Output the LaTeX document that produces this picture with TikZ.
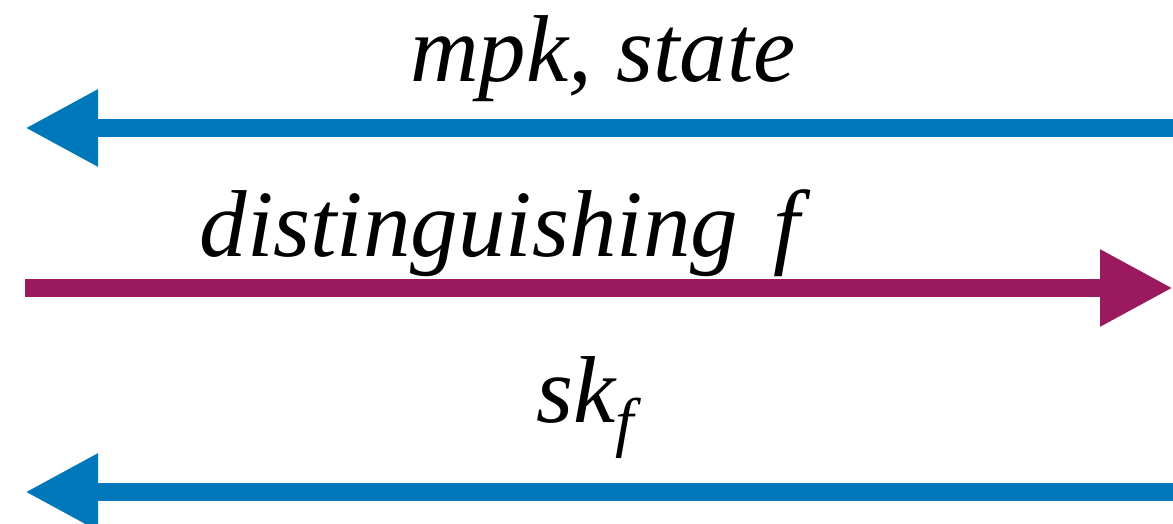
\documentclass[tikz,border=0pt]{standalone}
\usepackage{fontspec}
\setmainfont{Liberation Serif}
\usetikzlibrary{arrows.meta}
\definecolor{arrblue}{RGB}{0,119,187}
\definecolor{arrpurple}{RGB}{155,25,94}
\tikzset{
  msgline/.style={line width=18pt, -{Triangle[length=73pt,width=72pt]}},
  lbl/.style={inner sep=0pt, anchor=base, font=\fontsize{95}{100}\selectfont\itshape}
}
\begin{document}
\begin{tikzpicture}[x=1pt,y=1pt]
\useasboundingbox (0,0) rectangle (1173,524);
% endpoints
\coordinate (a1r) at (1173,396);
\coordinate (a1l) at (25,396);
\coordinate (a2l) at (25,236);
\coordinate (a2r) at (1173,236);
\coordinate (a3r) at (1173,32);
\coordinate (a3l) at (25,32);
\draw[msgline, arrblue] (a1r) -- (a1l);
\draw[msgline, arrpurple] (a2l) -- (a2r);
\draw[msgline, arrblue] (a3r) -- (a3l);
\node[lbl] (t1) at (603,442) {mpk, state};
\node[lbl] (t2) at (500,267) {distinguishing\hspace{12pt} f};
\node[lbl] (t3) at (585,101) {sk\raisebox{-22pt}{\fontsize{66}{70}\selectfont f}};
\end{tikzpicture}
\end{document}
